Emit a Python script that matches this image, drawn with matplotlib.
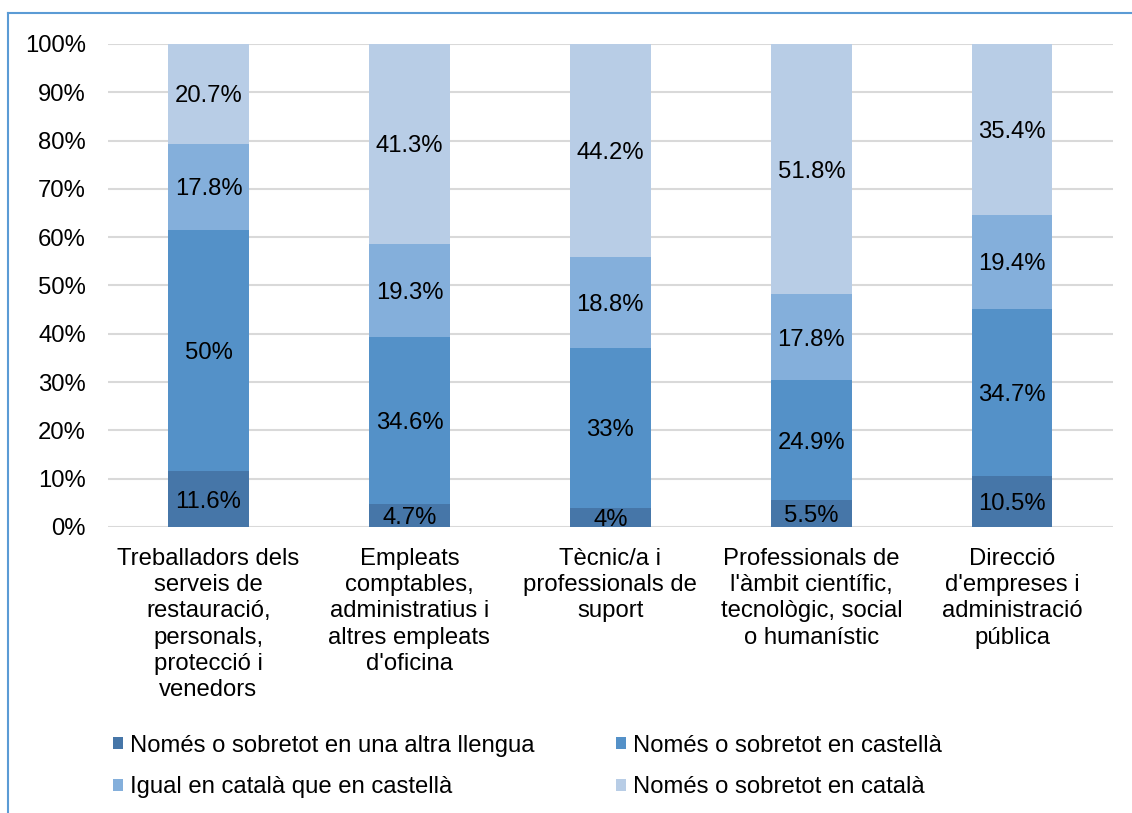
import numpy as np
import matplotlib
matplotlib.use("Agg")
import matplotlib.pyplot as plt
from matplotlib.lines import Line2D
from matplotlib.patches import Patch

plt.rcParams['font.family'] = ['Liberation Sans', 'DejaVu Sans']

categories = [
    "Treballadors dels\nserveis de\nrestauració,\npersonals,\nprotecció i\nvenedors",
    "Empleats\ncomptables,\nadministratius i\naltres empleats\nd'oficina",
    "Tècnic/a i\nprofessionals de\nsuport",
    "Professionals de\nl'àmbit científic,\ntecnològic, social\no humanístic",
    "Direcció\nd'empreses i\nadministració\npública",
]
series_names = [
    "Només o sobretot en una altra llengua",
    "Només o sobretot en castellà",
    "Igual en català que en castellà",
    "Només o sobretot en català",
]
altra = [11.6, 4.7, 4.0, 5.5, 10.5]
castella = [50.0, 34.6, 33.0, 24.9, 34.7]
igual = [17.8, 19.3, 18.8, 17.8, 19.4]
catala = [20.7, 41.3, 44.2, 51.8, 35.4]
labels_txt = [
    ["11.6%", "4.7%", "4%", "5.5%", "10.5%"],
    ["50%", "34.6%", "33%", "24.9%", "34.7%"],
    ["17.8%", "19.3%", "18.8%", "17.8%", "19.4%"],
    ["20.7%", "41.3%", "44.2%", "51.8%", "35.4%"],
]
colors = ['#4676A8', '#5491C8', '#84AFDB', '#B8CDE6']
FS = 17.2

data = np.array([altra, castella, igual, catala])
# 100% stacked: normalise each column
data = data / data.sum(axis=0) * 100

fig = plt.figure(figsize=(11.32, 8.13), dpi=100)
ax = fig.add_axes([0.0954, 0.3518, 0.8876, 0.5941])

x = np.arange(len(categories))
bottom = np.zeros(len(categories))
handles = []
for i, (vals, col) in enumerate(zip(data, colors)):
    ax.bar(x, vals, 0.4, bottom=bottom, color=col, zorder=2)
    for j in range(len(x)):
        ax.text(x[j], bottom[j] + vals[j] / 2, labels_txt[i][j],
                ha='center', va='center_baseline', fontsize=FS, color='black', zorder=3)
    bottom += vals
    handles.append(Patch(facecolor=col, edgecolor='none', label=series_names[i]))

ax.set_xlim(-0.5, len(categories) - 0.5)
ax.set_ylim(0, 100)
ax.set_yticks(np.arange(0, 101, 10))
ax.set_yticklabels([f"{v}%" for v in range(0, 101, 10)], fontsize=FS)
ax.set_xticks(x)
ax.set_xticklabels(categories, fontsize=FS, linespacing=1.25, va='top')
ax.tick_params(length=0)
ax.tick_params(axis='x', pad=15)
ax.tick_params(axis='y', pad=16)
ax.yaxis.grid(True, color='#D9D9D9', linewidth=1.5, zorder=0)
ax.set_axisbelow(True)
for s in ax.spines.values():
    s.set_visible(False)

order = [0, 2, 1, 3]
fig.legend([handles[k] for k in order], [series_names[k] for k in order],
           ncol=2, loc='upper left', bbox_to_anchor=(0.1, 0.0963), frameon=False,
           fontsize=FS, handlelength=0.42, handleheight=0.42, handletextpad=0.3,
           columnspacing=3.4, labelspacing=0.82, borderaxespad=0, borderpad=0)

# outer frame (left and top edges)
fig.add_artist(Line2D([0.0075, 0.0075], [0, 0.984], color='#5B9BD5', linewidth=1.5,
                      transform=fig.transFigure))
fig.add_artist(Line2D([0.0075, 1.0], [0.984, 0.984], color='#5B9BD5', linewidth=1.5,
                      transform=fig.transFigure))

fig.savefig("out.png", dpi=100)
